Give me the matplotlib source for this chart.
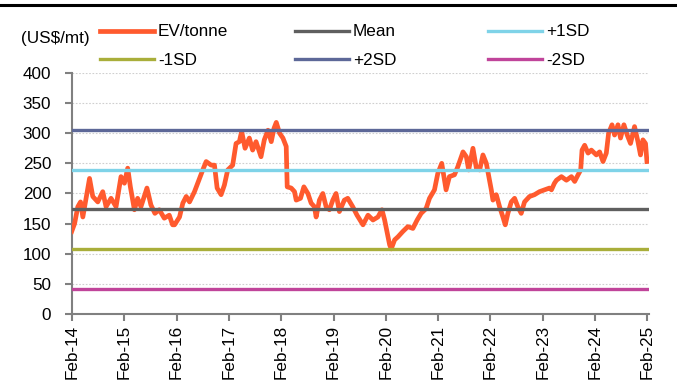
import matplotlib
matplotlib.use("Agg")
import matplotlib.pyplot as plt
from matplotlib.lines import Line2D

plt.rcParams.update({
    "font.family": ["Liberation Sans", "DejaVu Sans"],
    "font.size": 12.3,
})

# ── Data ─────────────────────────────────────────────────────────────────────
# time in decimal years, EV/tonne in US$/mt
years = [
    2014.08, 2014.135, 2014.197, 2014.249, 2014.293, 2014.356, 2014.421, 2014.483,
    2014.579, 2014.674, 2014.737, 2014.832, 2014.928, 2015.023, 2015.088, 2015.151,
    2015.202, 2015.279, 2015.341, 2015.404, 2015.519, 2015.595, 2015.671, 2015.755,
    2015.850, 2015.946, 2016.009, 2016.047, 2016.142, 2016.205, 2016.270, 2016.333,
    2016.428, 2016.524, 2016.586, 2016.651, 2016.747, 2016.810, 2016.861, 2016.937,
    2017.000, 2017.063, 2017.158, 2017.223, 2017.286, 2017.330, 2017.395, 2017.477,
    2017.540, 2017.605, 2017.700, 2017.763, 2017.833, 2017.896, 2017.948, 2017.992,
    2018.055, 2018.119, 2018.182, 2018.201, 2018.278, 2018.341, 2018.373, 2018.455,
    2018.520, 2018.596, 2018.659, 2018.722, 2018.754, 2018.817, 2018.882, 2018.945,
    2019.008, 2019.073, 2019.135, 2019.199, 2019.294, 2019.359, 2019.454, 2019.536,
    2019.650, 2019.746, 2019.841, 2019.936, 2020.013, 2020.064, 2020.114, 2020.159,
    2020.190, 2020.255, 2020.318, 2020.413, 2020.508, 2020.604, 2020.686, 2020.762,
    2020.857, 2020.922, 2021.017, 2021.080, 2021.156, 2021.239, 2021.303, 2021.399,
    2021.462, 2021.519, 2021.563, 2021.627, 2021.671, 2021.753, 2021.818, 2021.881,
    2021.944, 2022.009, 2022.039, 2022.104, 2022.135, 2022.199, 2022.262, 2022.326,
    2022.371, 2022.421, 2022.486, 2022.549, 2022.611, 2022.676, 2022.739, 2022.835,
    2022.930, 2023.025, 2023.121, 2023.216, 2023.254, 2023.311, 2023.350, 2023.445,
    2023.540, 2023.636, 2023.698, 2023.763, 2023.813, 2023.839, 2023.889, 2023.954,
    2024.017, 2024.112, 2024.175, 2024.240, 2024.303, 2024.347, 2024.412, 2024.461,
    2024.526, 2024.575, 2024.640, 2024.703, 2024.766, 2024.843, 2024.908, 2024.957,
    2025.003, 2025.053, 2025.080,
]
ev_tonne = [
    137, 150, 178, 186, 161, 192, 225, 195,
    186, 203, 178, 192, 178, 228, 217, 242,
    211, 173, 192, 178, 209, 181, 167, 173,
    159, 164, 148, 148, 161, 184, 195, 186,
    203, 225, 239, 253, 247, 247, 209, 198,
    214, 239, 247, 283, 286, 303, 275, 292,
    272, 286, 261, 289, 305, 286, 308, 318,
    300, 292, 278, 211, 209, 203, 189, 192,
    211, 200, 184, 178, 161, 189, 200, 178,
    173, 189, 200, 170, 189, 192, 178, 164,
    148, 164, 156, 161, 173, 156, 134, 115,
    108, 123, 128, 137, 145, 142, 156, 167,
    175, 192, 206, 233, 250, 206, 228, 231,
    244, 258, 269, 261, 239, 275, 242, 239,
    264, 250, 236, 206, 189, 198, 178, 161,
    148, 167, 186, 192, 178, 167, 186, 195,
    198, 203, 206, 209, 206, 217, 222, 228,
    222, 228, 220, 231, 239, 272, 280, 267,
    272, 264, 269, 253, 267, 300, 314, 297,
    314, 292, 314, 297, 283, 311, 286, 264,
    289, 283, 253,
]

band_labels = ["Mean", "+1SD", "-1SD", "+2SD", "-2SD"]
band_levels = [173.7, 239.4, 108.0, 305.1, 42.3]
band_colors = ["#5f5f5f", "#7fd3e8", "#a9ae3a", "#5d6898", "#c0449a"]

tick_years = list(range(2014, 2026))
tick_labels = [f"Feb-{y % 100:02d}" for y in tick_years]
FEB = 1 / 12 + 0.003   # Feb-01 as decimal offset

EV_COLOR = "#ff5a2e"

# ── Plot ─────────────────────────────────────────────────────────────────────
fig = plt.figure(figsize=(6.77, 3.82), dpi=100)
ax = fig.add_axes([0.1064, 0.178, 0.852, 0.631])

ev_line, = ax.plot(years, ev_tonne, color=EV_COLOR, lw=3.4,
                   solid_joinstyle="round", zorder=3)

band_handles = {}
for lab, lvl, col in zip(band_labels, band_levels, band_colors):
    h = ax.axhline(lvl, color=col, lw=2.4, zorder=4)
    band_handles[lab] = h

ax.set_xlim(tick_years[0] + FEB, tick_years[-1] + FEB + 0.03)
ax.set_ylim(0, 400)
ax.set_yticks(range(0, 401, 50))
ax.set_xticks([y + FEB for y in tick_years])
ax.set_xticklabels(tick_labels, rotation=90)

ax.grid(axis="y", linestyle=(0, (1.5, 1.5)), color="#cfcfcf", lw=0.8, zorder=0)
for s in ["top", "right"]:
    ax.spines[s].set_visible(False)
for s in ["left", "bottom"]:
    ax.spines[s].set_color("#808080")
    ax.spines[s].set_linewidth(1.5)
ax.tick_params(axis="both", colors="#808080", length=5, width=1.5,
               labelcolor="black", labelsize=12.3)
ax.tick_params(axis="y", pad=10)
ax.tick_params(axis="x", pad=3)

# legend: three columns placed individually
cols = [
    ([ev_line, band_handles["-1SD"]], ["EV/tonne", "-1SD"], 100),
    ([band_handles["Mean"], band_handles["+2SD"]], ["Mean", "+2SD"], 295),
    ([band_handles["+1SD"], band_handles["-2SD"]], ["+1SD", "-2SD"], 488),
]
for hs, ls, xpx in cols:
    fig.legend(hs, ls, loc="upper left",
               bbox_to_anchor=(xpx / 677, 1 - 24.5 / 382),
               frameon=False, handlelength=3.15, handletextpad=0.25,
               labelspacing=0.78, borderpad=0, borderaxespad=0, fontsize=12.3)

fig.text(21 / 677, 1 - 39 / 382, "(US$/mt)", ha="left", va="center", fontsize=12.3)

# rule across the top of the figure
fig.add_artist(Line2D([0, 1], [1 - 5 / 382, 1 - 5 / 382],
                      transform=fig.transFigure, color="black", lw=2.2))

fig.savefig("out.png", dpi=100)
